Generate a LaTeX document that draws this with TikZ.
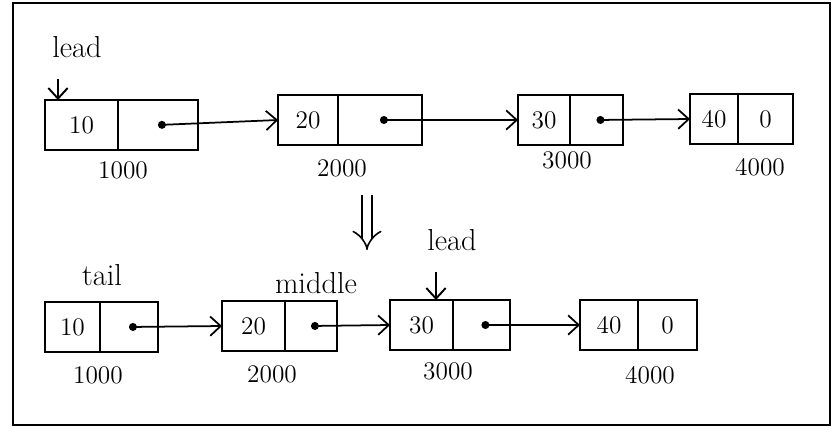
\documentclass[tikz,border=0pt]{standalone}
\usetikzlibrary{positioning, arrows.meta}

\begin{document}
\begin{tikzpicture}[
    x=0.02cm, y=-0.02cm,
    >={Straight Barb[length=6pt, width=11pt]},
    line width=1.1pt,
    font=\Large,
    cell/.style={
        draw,
        minimum height=1cm,
        minimum width=#1,
        inner sep=0pt,
        outer sep=0pt
    },
    addr/.style={font=\Large},
    tag/.style={font=\LARGE},
    link/.style={{Circle[length=4.5pt]}->, line width=1pt}
]

\useasboundingbox (0,0) rectangle (833,427);
\draw (13,3) rectangle (830,425);

% list before the change
\node[cell=1.46cm] (A1) at (81.5,125) {10};
\node[cell=1.6cm, right=0pt of A1] (A1n) {};
\node[cell=1.2cm] (A2) at (308,120) {20};
\node[cell=1.68cm, right=0pt of A2] (A2n) {};
\node[cell=1.04cm] (A3) at (544,120) {30};
\node[cell=1.06cm, right=0pt of A3] (A3n) {};
\node[cell=0.96cm] (A4) at (714,119) {40};
\node[cell=1.1cm, right=0pt of A4] (A4n) {0};

\node[addr] (A1addr) at (123,170) {1000};
\node[addr] (A2addr) at (342,168) {2000};
\node[addr] (A3addr) at (567,160) {3000};
\node[addr] (A4addr) at (760,167) {4000};

\node[tag] (leadA) at (77,47) {lead};
\draw[->] ([xshift=-0.38cm, yshift=-0.3cm]leadA.south) -- ([xshift=-0.38cm]leadA.south |- A1.north);

\draw[link] (A1n.center) -- (A2.west);
\draw[link] (A2n.center) -- (A3.west);
\draw[link] (A3n.center) -- (A4.west);

% change
\coordinate (turnTop) at (367,195);
\coordinate (turnBot) at (367,250);
\draw[double, double distance=5pt, line width=0.9pt, -{Implies}] (turnTop) -- (turnBot);

% list after the change
\node[cell=1.1cm] (B1) at (72.5,327) {10};
\node[cell=1.16cm, right=0pt of B1] (B1n) {};
\node[cell=1.26cm] (B2) at (253.5,326) {20};
\node[cell=1.04cm, right=0pt of B2] (B2n) {};
\node[cell=1.26cm] (B3) at (421.5,325) {30};
\node[cell=1.14cm, right=0pt of B3] (B3n) {};
\node[cell=1.16cm] (B4) at (609,325) {40};
\node[cell=1.18cm, right=0pt of B4] (B4n) {0};

\node[addr] (B1addr) at (98,375) {1000};
\node[addr] (B2addr) at (272,374) {2000};
\node[addr] (B3addr) at (448,371) {3000};
\node[addr] (B4addr) at (650,375) {4000};

\node[tag] (tailB) at (102,275) {tail};
\node[tag] (middleB) at (316,283) {middle};
\node[tag] (leadB) at (452,240) {lead};
\draw[->] ([xshift=-0.32cm, yshift=-0.3cm]leadB.south) -- ([xshift=-0.32cm]leadB.south |- B3.north);

\draw[link] (B1n.center) -- (B2.west);
\draw[link] (B2n.center) -- (B3.west);
\draw[link] (B3n.center) -- (B4.west);

\end{tikzpicture}
\end{document}
